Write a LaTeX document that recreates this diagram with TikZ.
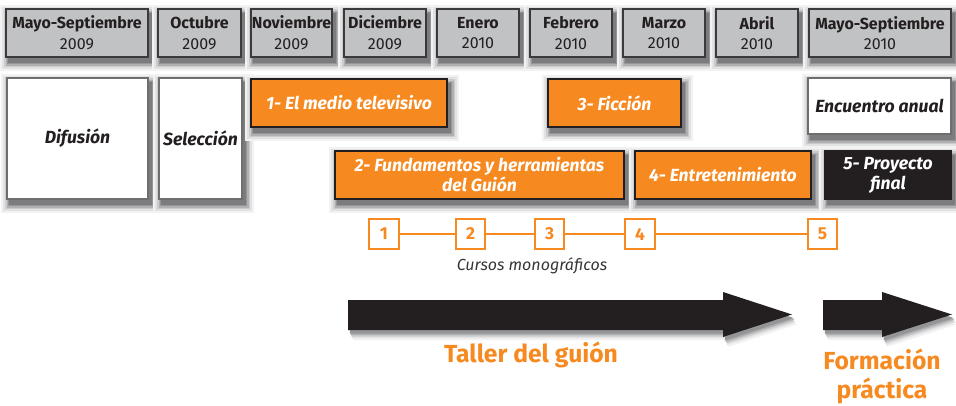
\documentclass[tikz,border=0pt]{standalone}
\usepackage{fontspec}
\setmainfont{Fira Sans}
\definecolor{org}{HTML}{F6891F}
\definecolor{ink}{HTML}{231F20}
\definecolor{hdrgray}{HTML}{C1C2C4}
\definecolor{hdrline}{HTML}{3A3A3C}
\definecolor{wline}{HTML}{6D6E70}
\definecolor{sh1}{HTML}{F2F2F2}
\definecolor{sh2}{HTML}{E2E2E3}
\definecolor{sh3}{HTML}{CBCBCD}
\definecolor{sh4}{HTML}{B0B0B2}
\definecolor{sh5}{HTML}{959597}
\definecolor{sh6}{HTML}{7C7C7E}
\newcommand\shadowrect[4]{%
  \fill[sh1] ({#1+3-9},{#2+5-9}) rectangle ({#3+3+9},{#4+5+9});
  \fill[sh2] ({#1+3-7},{#2+5-7}) rectangle ({#3+3+7},{#4+5+7});
  \fill[sh3] ({#1+3-5},{#2+5-5}) rectangle ({#3+3+5},{#4+5+5});
  \fill[sh4] ({#1+3-3.5},{#2+5-3.5}) rectangle ({#3+3+3.5},{#4+5+3.5});
  \fill[sh5] ({#1+3-2},{#2+5-2}) rectangle ({#3+3+2},{#4+5+2});
  \fill[sh6] ({#1+3-0.8},{#2+5-0.8}) rectangle ({#3+3+0.8},{#4+5+0.8});}
\newcommand\pbox[7]{\shadowrect{#3}{#4}{#5}{#6}\node[#1, minimum width={(#5-#3)*0.75pt}, minimum height={(#6-#4)*0.75pt}] (#2) at ({(#3+#5)/2},{(#4+#6)/2}) {#7};}
\newcommand\arrowA{(348,300) -- (723,300) -- (723,292) -- (792,314.5) -- (723,337) -- (723,330) -- (348,330) -- cycle}
\newcommand\arrowB{(823,300) -- (882,300) -- (882,292) -- (952,314.5) -- (882,337) -- (882,330) -- (823,330) -- cycle}
\begin{document}
\begin{tikzpicture}[x=0.75pt,y=-0.75pt,
  base/.style={inner sep=0pt, outer sep=0pt, align=center},
  hdr/.style={base, draw=hdrline, line width=0.8pt, fill=hdrgray, text=ink, font=\fontsize{12}{15.5}\selectfont},
  wbox/.style={base, draw=wline, line width=0.9pt, fill=white, text=ink, font=\fontsize{13.2}{15}\selectfont\bfseries\itshape},
  obox/.style={base, draw=ink, line width=1pt, fill=org, text=white, font=\fontsize{13.2}{15}\selectfont\bfseries\itshape},
  kbox/.style={base, draw=ink, line width=1pt, fill=ink, text=white, font=\fontsize{13.2}{15}\selectfont\bfseries\itshape},
  numbox/.style={draw=org, line width=1.3pt, fill=white, text=org, inner sep=0pt, minimum size=22pt, font=\fontsize{13}{14}\selectfont\bfseries},
  numline/.style={draw=org, line width=1.4pt},
  bigarrow/.style={fill=ink},
  lbl/.style={text=org, align=center, font=\fontsize{18.5}{22}\selectfont\bfseries}
]
\useasboundingbox (0,0) rectangle (956,405);
% arrow shadows
\fill[sh1, shift={(5,10)}] \arrowA; \fill[sh1, shift={(5,10)}] \arrowB;
\fill[sh2, shift={(4,8)}] \arrowA; \fill[sh2, shift={(4,8)}] \arrowB;
\fill[sh3, shift={(3.25,6.5)}] \arrowA; \fill[sh3, shift={(3.25,6.5)}] \arrowB;
\fill[sh4, shift={(2.5,5)}] \arrowA; \fill[sh4, shift={(2.5,5)}] \arrowB;
\fill[sh5, shift={(1.75,3.5)}] \arrowA; \fill[sh5, shift={(1.75,3.5)}] \arrowB;
% header
\pbox{hdr}{h1}{6}{9}{148}{57}{\textbf{Mayo-Septiembre}\\2009}
\pbox{hdr}{h2}{158}{9}{241}{57}{\textbf{Octubre}\\2009}
\pbox{hdr}{h3}{251}{9}{332}{57}{\textbf{Noviembre}\\2009}
\pbox{hdr}{h4}{344}{9}{426}{57}{\textbf{Diciembre}\\2009}
\pbox{hdr}{h5}{437}{9}{519}{57}{\textbf{Enero}\\2010}
\pbox{hdr}{h6}{530}{9}{612}{57}{\textbf{Febrero}\\2010}
\pbox{hdr}{h7}{623}{9}{705}{57}{\textbf{Marzo}\\2010}
\pbox{hdr}{h8}{716}{9}{798}{57}{\textbf{Abril}\\2010}
\pbox{hdr}{h9}{809}{9}{951}{57}{\textbf{Mayo-Septiembre}\\2010}
% row boxes
\pbox{wbox}{dif}{7}{78}{148}{199}{Difusión}
\pbox{wbox}{sel}{159}{78}{242}{199}{Selección}
\pbox{obox}{m1}{251}{79}{447}{127}{1- El medio televisivo}
\pbox{obox}{m3}{548}{79}{681}{127}{3- Ficción}
\pbox{wbox}{enc}{808}{78}{951}{134}{Encuentro anual}
\pbox{obox}{m2}{335}{151}{624}{199}{2- Fundamentos y herramientas\\del Guión}
\pbox{obox}{m4}{635}{151}{811}{199}{4- Entretenimiento}
\pbox{kbox}{m5}{825}{151}{951}{199}{5- Proyecto\\final}
% cursos monograficos
\node[numbox] (c1) at (384,234) {1};
\node[numbox] (c2) at (470.5,234) {2};
\node[numbox] (c3) at (549.5,234) {3};
\node[numbox] (c4) at (640,234) {4};
\node[numbox] (c5) at (822.5,234) {5};
\draw[numline] (c1) -- (c2);
\draw[numline] (c2) -- (c3);
\draw[numline] (c3) -- (c4);
\draw[numline] (c4) -- (c5);
\node[text=ink!90, font=\fontsize{12}{14}\selectfont\itshape] (cm) at (532,266) {Cursos monográficos};
% arrows
\path[bigarrow] \arrowA;
\path[bigarrow] \arrowB;
\node[lbl, anchor=base] (taller) at (531,362) {Taller del guión};
\node[lbl, anchor=base] (form) at (882,369) {Formación};
\node[lbl, anchor=base] (prac) at (882,398) {práctica};
\end{tikzpicture}
\end{document}
